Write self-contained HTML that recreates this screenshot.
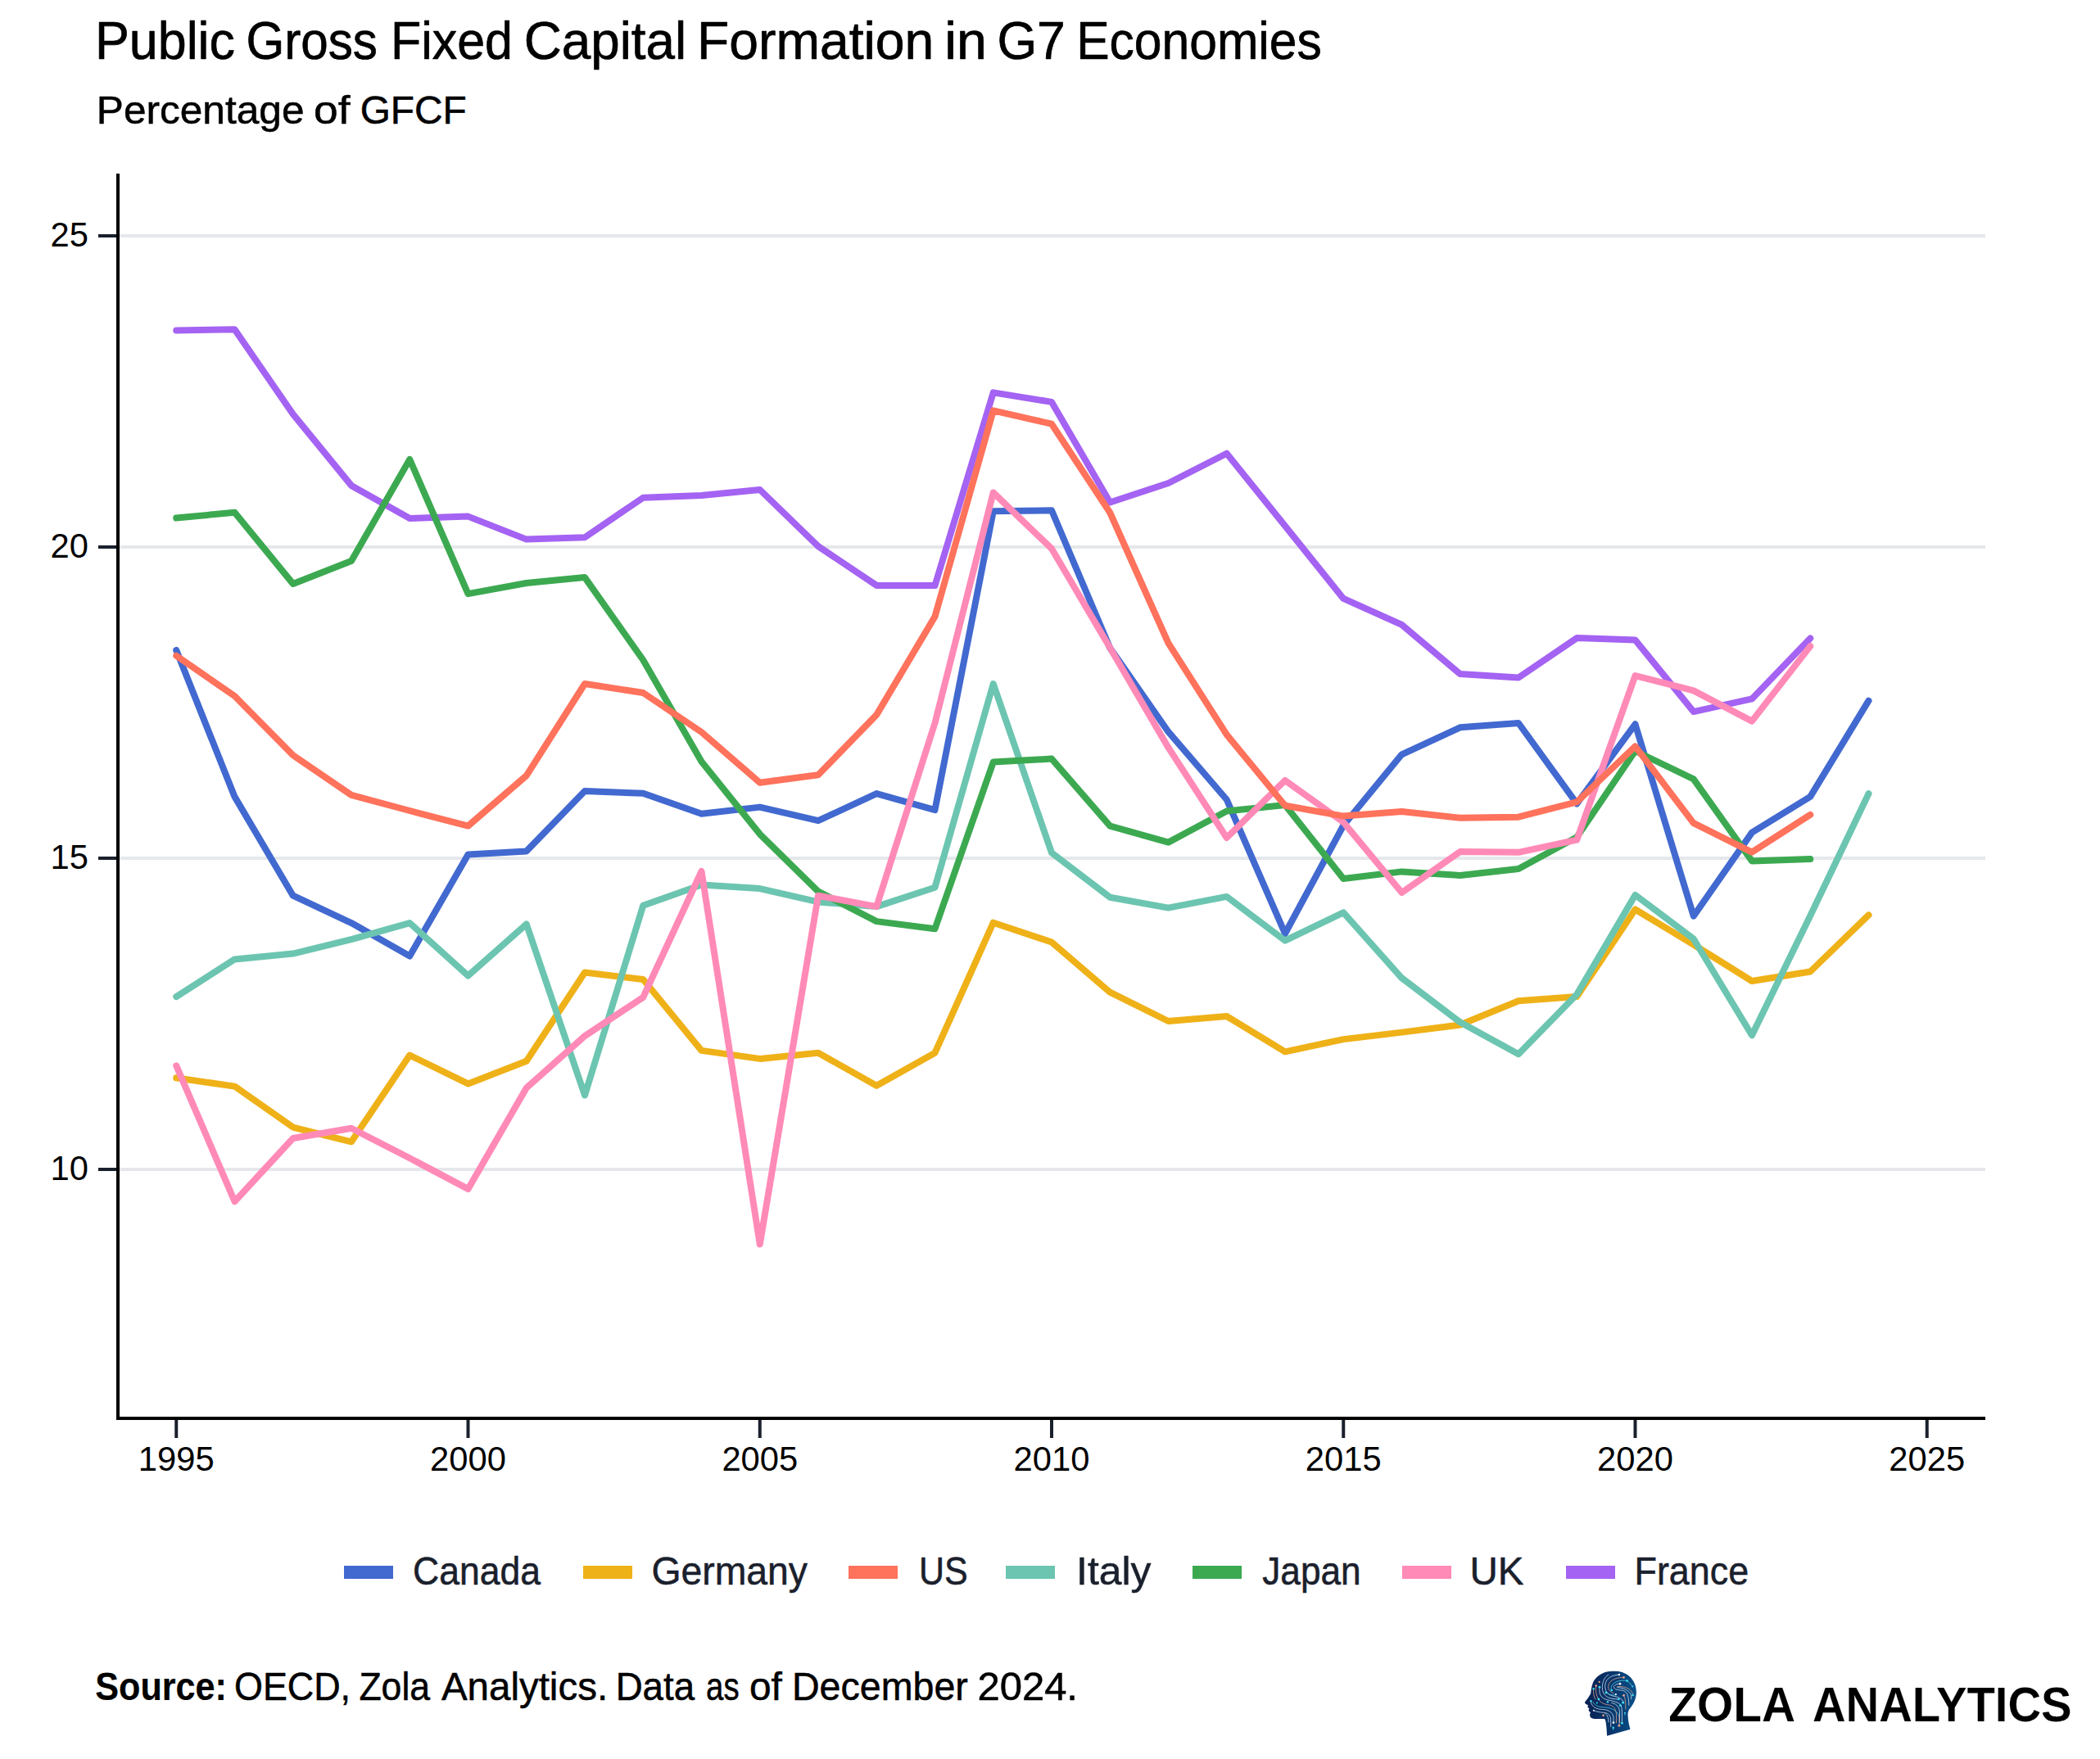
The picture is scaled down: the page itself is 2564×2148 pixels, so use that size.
<!DOCTYPE html>
<html lang="en"><head><meta charset="utf-8"><title>Public Gross Fixed Capital Formation in G7 Economies</title>
<style>
html,body{margin:0;padding:0;background:#fff;}
body{width:2564px;height:2148px;overflow:hidden;}
svg{display:block;}
text{font-family:'Liberation Sans', sans-serif;}
</style></head><body>
<svg width="2564" height="2148" viewBox="0 0 2564 2148">
<rect width="2564" height="2148" fill="#fff"/>

<g stroke="#e5e7eb" stroke-width="4">
<line x1="144" x2="2424" y1="1428" y2="1428"/>
<line x1="144" x2="2424" y1="1048" y2="1048"/>
<line x1="144" x2="2424" y1="668" y2="668"/>
<line x1="144" x2="2424" y1="288" y2="288"/>
</g>
<g stroke="#1a202c" stroke-width="4">
<line x1="120" x2="144" y1="1428" y2="1428"/>
<line x1="120" x2="144" y1="1048" y2="1048"/>
<line x1="120" x2="144" y1="668" y2="668"/>
<line x1="120" x2="144" y1="288" y2="288"/>
<line x1="215.25" x2="215.25" y1="1732" y2="1756"/>
<line x1="571.50" x2="571.50" y1="1732" y2="1756"/>
<line x1="927.75" x2="927.75" y1="1732" y2="1756"/>
<line x1="1284.00" x2="1284.00" y1="1732" y2="1756"/>
<line x1="1640.25" x2="1640.25" y1="1732" y2="1756"/>
<line x1="1996.50" x2="1996.50" y1="1732" y2="1756"/>
<line x1="2352.75" x2="2352.75" y1="1732" y2="1756"/>
</g>
<g fill="none" stroke-width="8" stroke-linejoin="round" stroke-linecap="round">
<polyline stroke="#4269d0" points="215.25,794.0 286.50,972.9 357.75,1093.7 429.00,1127.1 500.25,1167.5 571.50,1043.4 642.75,1039.4 714.00,966.0 785.25,968.8 856.50,993.7 927.75,985.6 999.00,1002.2 1070.25,969.1 1141.50,989.1 1212.75,624.3 1284.00,623.2 1355.25,791.4 1426.50,893.7 1497.75,976.5 1569.00,1140.0 1640.25,1008.0 1711.50,921.3 1782.75,888.3 1854.00,883.0 1925.25,981.4 1996.50,884.3 2067.75,1118.7 2139.00,1016.6 2210.25,972.9 2281.50,855.7"/>
<polyline stroke="#a463f2" points="215.25,403.4 286.50,402.3 357.75,505.7 429.00,592.9 500.25,633.1 571.50,630.6 642.75,658.6 714.00,656.2 785.25,607.7 856.50,605.1 927.75,598.0 999.00,667.1 1070.25,714.9 1141.50,715.1 1212.75,479.4 1284.00,490.9 1355.25,613.5 1426.50,590.0 1497.75,553.7 1569.00,642.3 1640.25,730.9 1711.50,762.9 1782.75,823.0 1854.00,827.5 1925.25,779.1 1996.50,781.4 2067.75,869.1 2139.00,853.4 2210.25,779.4"/>
<polyline stroke="#efb118" points="215.25,1316.3 286.50,1326.6 357.75,1376.6 429.00,1394.3 500.25,1288.6 571.50,1323.4 642.75,1295.7 714.00,1187.5 785.25,1196.0 856.50,1282.9 927.75,1292.9 999.00,1285.7 1070.25,1325.7 1141.50,1285.7 1212.75,1126.7 1284.00,1150.5 1355.25,1211.7 1426.50,1247.0 1497.75,1241.0 1569.00,1284.3 1640.25,1269.1 1711.50,1260.6 1782.75,1251.5 1854.00,1222.3 1925.25,1217.1 1996.50,1110.5 2067.75,1153.5 2139.00,1198.0 2210.25,1186.5 2281.50,1117.4"/>
<polyline stroke="#6cc5b0" points="215.25,1217.1 286.50,1171.4 357.75,1164.6 429.00,1147.1 500.25,1127.1 571.50,1191.5 642.75,1128.5 714.00,1337.5 785.25,1105.7 856.50,1080.6 927.75,1085.1 999.00,1101.4 1070.25,1107.1 1141.50,1083.7 1212.75,835.0 1284.00,1041.4 1355.25,1095.7 1426.50,1108.6 1497.75,1094.9 1569.00,1148.6 1640.25,1114.3 1711.50,1194.3 1782.75,1248.3 1854.00,1287.2 1925.25,1214.3 1996.50,1092.9 2067.75,1146.5 2139.00,1264.3 2210.25,1118.3 2281.50,969.1"/>
<polyline stroke="#3ca951" points="215.25,632.6 286.50,625.7 357.75,712.9 429.00,685.1 500.25,561.0 571.50,725.1 642.75,712.0 714.00,705.1 785.25,806.0 856.50,930.0 927.75,1018.6 999.00,1088.6 1070.25,1125.1 1141.50,1134.3 1212.75,930.6 1284.00,926.6 1355.25,1008.6 1426.50,1028.6 1497.75,990.5 1569.00,982.9 1640.25,1073.0 1711.50,1064.4 1782.75,1069.0 1854.00,1061.0 1925.25,1022.3 1996.50,917.0 2067.75,951.4 2139.00,1051.4 2210.25,1049.1"/>
<polyline stroke="#ff8ab7" points="215.25,1301.4 286.50,1467.2 357.75,1390.0 429.00,1377.7 500.25,1414.3 571.50,1451.9 642.75,1328.6 714.00,1265.1 785.25,1217.8 856.50,1064.0 927.75,1519.5 999.00,1093.7 1070.25,1107.1 1141.50,882.9 1212.75,601.5 1284.00,670.0 1355.25,791.0 1426.50,912.9 1497.75,1023.0 1569.00,953.0 1640.25,1004.0 1711.50,1090.0 1782.75,1040.0 1854.00,1040.8 1925.25,1025.7 1996.50,825.1 2067.75,843.4 2139.00,880.6 2210.25,789.1"/>
<polyline stroke="#ff725c" points="215.25,800.8 286.50,850.0 357.75,922.3 429.00,970.9 500.25,990.0 571.50,1008.6 642.75,947.1 714.00,835.0 785.25,846.0 856.50,894.0 927.75,955.7 999.00,946.3 1070.25,872.9 1141.50,752.9 1212.75,501.4 1284.00,517.7 1355.25,626.0 1426.50,785.4 1497.75,897.1 1569.00,983.8 1640.25,996.6 1711.50,991.1 1782.75,998.8 1854.00,997.7 1925.25,979.4 1996.50,911.4 2067.75,1005.1 2139.00,1040.6 2210.25,994.9"/>
</g>
<g stroke="#000" stroke-width="4" stroke-linecap="square"><line x1="144" x2="144" y1="214" y2="1732"/><line x1="144" x2="2422" y1="1732" y2="1732"/></g>
<g font-size="42" fill="#000">
<text x="61.6" y="1440.8" textLength="46.4" lengthAdjust="spacingAndGlyphs">10</text>
<text x="61.6" y="1060.8" textLength="46.4" lengthAdjust="spacingAndGlyphs">15</text>
<text x="61.6" y="680.8" textLength="46.4" lengthAdjust="spacingAndGlyphs">20</text>
<text x="61.6" y="300.8" textLength="46.4" lengthAdjust="spacingAndGlyphs">25</text>
<text x="168.8" y="1796.4" textLength="92.8" lengthAdjust="spacingAndGlyphs">1995</text>
<text x="525.1" y="1796.4" textLength="92.8" lengthAdjust="spacingAndGlyphs">2000</text>
<text x="881.4" y="1796.4" textLength="92.8" lengthAdjust="spacingAndGlyphs">2005</text>
<text x="1237.6" y="1796.4" textLength="92.8" lengthAdjust="spacingAndGlyphs">2010</text>
<text x="1593.8" y="1796.4" textLength="92.8" lengthAdjust="spacingAndGlyphs">2015</text>
<text x="1950.1" y="1796.4" textLength="92.8" lengthAdjust="spacingAndGlyphs">2020</text>
<text x="2306.3" y="1796.4" textLength="92.8" lengthAdjust="spacingAndGlyphs">2025</text>
</g>
<rect x="420" y="1912" width="60" height="16" fill="#4269d0"/>
<rect x="712" y="1912" width="60" height="16" fill="#efb118"/>
<rect x="1036" y="1912" width="60" height="16" fill="#ff725c"/>
<rect x="1228" y="1912" width="60" height="16" fill="#6cc5b0"/>
<rect x="1456" y="1912" width="60" height="16" fill="#3ca951"/>
<rect x="1712" y="1912" width="60" height="16" fill="#ff8ab7"/>
<rect x="1912" y="1912" width="60" height="16" fill="#a463f2"/>
<text x="116.0" y="72" font-size="64" fill="#000" stroke="#000" stroke-width="0.7" stroke-linejoin="round" textLength="170.9" lengthAdjust="spacingAndGlyphs">Public</text>
<text x="300.4" y="72" font-size="64" fill="#000" stroke="#000" stroke-width="0.7" stroke-linejoin="round" textLength="160.5" lengthAdjust="spacingAndGlyphs">Gross</text>
<text x="477.0" y="72" font-size="64" fill="#000" stroke="#000" stroke-width="0.7" stroke-linejoin="round" textLength="149.0" lengthAdjust="spacingAndGlyphs">Fixed</text>
<text x="639.7" y="72" font-size="64" fill="#000" stroke="#000" stroke-width="0.7" stroke-linejoin="round" textLength="198.5" lengthAdjust="spacingAndGlyphs">Capital</text>
<text x="851.0" y="72" font-size="64" fill="#000" stroke="#000" stroke-width="0.7" stroke-linejoin="round" textLength="289.3" lengthAdjust="spacingAndGlyphs">Formation</text>
<text x="1153.2" y="72" font-size="64" fill="#000" stroke="#000" stroke-width="0.7" stroke-linejoin="round" textLength="51.6" lengthAdjust="spacingAndGlyphs">in</text>
<text x="1217.4" y="72" font-size="64" fill="#000" stroke="#000" stroke-width="0.7" stroke-linejoin="round" textLength="83.4" lengthAdjust="spacingAndGlyphs">G7</text>
<text x="1314.2" y="72" font-size="64" fill="#000" stroke="#000" stroke-width="0.7" stroke-linejoin="round" textLength="299.6" lengthAdjust="spacingAndGlyphs">Economies</text>
<text x="117.8" y="151.4" font-size="48" fill="#000" stroke="#000" stroke-width="0.53" stroke-linejoin="round" textLength="253.7" lengthAdjust="spacingAndGlyphs">Percentage</text>
<text x="383.1" y="151.4" font-size="48" fill="#000" stroke="#000" stroke-width="0.53" stroke-linejoin="round" textLength="44.5" lengthAdjust="spacingAndGlyphs">of</text>
<text x="439.7" y="151.4" font-size="48" fill="#000" stroke="#000" stroke-width="0.53" stroke-linejoin="round" textLength="130.0" lengthAdjust="spacingAndGlyphs">GFCF</text>
<text x="504.1" y="1935" font-size="48" fill="#1a202c" stroke="#1a202c" stroke-width="0.53" stroke-linejoin="round" textLength="155.9" lengthAdjust="spacingAndGlyphs">Canada</text>
<text x="795.4" y="1935" font-size="48" fill="#1a202c" stroke="#1a202c" stroke-width="0.53" stroke-linejoin="round" textLength="190.6" lengthAdjust="spacingAndGlyphs">Germany</text>
<text x="1121.9" y="1935" font-size="48" fill="#1a202c" stroke="#1a202c" stroke-width="0.53" stroke-linejoin="round" textLength="59.7" lengthAdjust="spacingAndGlyphs">US</text>
<text x="1314.1" y="1935" font-size="48" fill="#1a202c" stroke="#1a202c" stroke-width="0.53" stroke-linejoin="round" textLength="91.3" lengthAdjust="spacingAndGlyphs">Italy</text>
<text x="1541.2" y="1935" font-size="48" fill="#1a202c" stroke="#1a202c" stroke-width="0.53" stroke-linejoin="round" textLength="120.5" lengthAdjust="spacingAndGlyphs">Japan</text>
<text x="1794.4" y="1935" font-size="48" fill="#1a202c" stroke="#1a202c" stroke-width="0.53" stroke-linejoin="round" textLength="66.0" lengthAdjust="spacingAndGlyphs">UK</text>
<text x="1995.5" y="1935" font-size="48" fill="#1a202c" stroke="#1a202c" stroke-width="0.53" stroke-linejoin="round" textLength="139.6" lengthAdjust="spacingAndGlyphs">France</text>
<text x="116.3" y="2076" font-size="48" font-weight="700" fill="#000" stroke="#000" stroke-width="0.2" stroke-linejoin="round" textLength="160.5" lengthAdjust="spacingAndGlyphs">Source:</text>
<text x="286.0" y="2076" font-size="48" fill="#000" stroke="#000" stroke-width="0.53" stroke-linejoin="round" textLength="142.0" lengthAdjust="spacingAndGlyphs">OECD,</text>
<text x="438.4" y="2076" font-size="48" fill="#000" stroke="#000" stroke-width="0.53" stroke-linejoin="round" textLength="86.7" lengthAdjust="spacingAndGlyphs">Zola</text>
<text x="538.9" y="2076" font-size="48" fill="#000" stroke="#000" stroke-width="0.53" stroke-linejoin="round" textLength="203.2" lengthAdjust="spacingAndGlyphs">Analytics.</text>
<text x="751.7" y="2076" font-size="48" fill="#000" stroke="#000" stroke-width="0.53" stroke-linejoin="round" textLength="96.3" lengthAdjust="spacingAndGlyphs">Data</text>
<text x="862.1" y="2076" font-size="48" fill="#000" stroke="#000" stroke-width="0.53" stroke-linejoin="round" textLength="40.5" lengthAdjust="spacingAndGlyphs">as</text>
<text x="914.9" y="2076" font-size="48" fill="#000" stroke="#000" stroke-width="0.53" stroke-linejoin="round" textLength="39.9" lengthAdjust="spacingAndGlyphs">of</text>
<text x="966.9" y="2076" font-size="48" fill="#000" stroke="#000" stroke-width="0.53" stroke-linejoin="round" textLength="215.0" lengthAdjust="spacingAndGlyphs">December</text>
<text x="1193.4" y="2076" font-size="48" fill="#000" stroke="#000" stroke-width="0.53" stroke-linejoin="round" textLength="122.6" lengthAdjust="spacingAndGlyphs">2024.</text>
<text x="2037.2" y="2101.9" font-size="60" font-weight="700" fill="#000" stroke="#fff" stroke-width="0.2" stroke-linejoin="round" textLength="154.8" lengthAdjust="spacingAndGlyphs">ZOLA</text>
<text x="2212.9" y="2101.9" font-size="60" font-weight="700" fill="#000" stroke="#fff" stroke-width="0.2" stroke-linejoin="round" textLength="316.7" lengthAdjust="spacingAndGlyphs">ANALYTICS</text>
<defs><linearGradient id="hg" x1="0" y1="0" x2="1" y2="0"><stop offset="0" stop-color="#091f50"/><stop offset="0.5" stop-color="#09356b"/><stop offset="1" stop-color="#0a5088"/></linearGradient></defs>
<g transform="translate(1920,2030) scale(0.05685)">
<path fill="url(#hg)" d="M880,190 C1000,185 1120,215 1210,290 C1310,370 1370,500 1370,640 C1370,780 1310,900 1215,1010 C1190,1060 1185,1110 1190,1160 C1195,1260 1215,1350 1240,1440 L740,1580 C735,1480 730,1380 715,1290 C710,1250 700,1225 685,1215 L470,1212 C410,1212 375,1185 372,1140 C370,1115 378,1095 385,1078 L352,1045 L345,1015 L362,992 L322,962 L336,925 L272,885 L262,858 L330,770 L390,672 C400,600 405,520 440,430 C490,320 600,240 720,205 C775,192 830,190 880,190 Z"/>
<g fill="none" stroke-width="13" stroke-linecap="round" stroke-linejoin="round">
<g stroke="#dcebf5">
<path d="M1000,265 C860,270 720,330 700,480 C690,600 740,690 860,720 C960,740 1060,760 1100,860"/>
<path d="M1020,460 C940,460 880,490 890,540 C900,590 980,590 1060,600 C1160,615 1210,700 1210,920"/>
<path d="M960,540 C1100,540 1200,600 1260,700 L1260,790"/>
<path d="M770,265 C680,320 640,420 640,540 C640,680 720,760 860,780 C900,785 950,790 990,792"/>
<path d="M580,540 C570,640 580,740 700,790 C820,830 960,830 1040,920 L1060,1000 L1065,1300"/>
<path d="M395,830 C400,940 480,1000 620,1010 C760,1015 860,1060 880,1180 L880,1295"/>
<path d="M455,1035 C520,1060 600,1075 680,1080 C780,1090 820,1150 822,1250 L822,1380"/>
<path d="M700,1100 C750,1130 770,1180 772,1280"/>
<path d="M840,870 C920,880 1000,940 1010,1050 L1012,1290"/>
</g>
<g stroke="#4fdcee">
<path d="M1170,395 C1020,370 850,420 830,540 C825,580 835,590 840,598"/>
<path d="M1290,520 C1240,450 1200,420 1170,395"/>
<path d="M440,850 C470,930 560,960 680,965 C820,970 940,1020 1000,1150"/>
<path d="M720,650 C780,700 860,705 930,700"/>
<path d="M1125,1085 L1125,1130"/>
<path d="M875,1405 L875,1450"/>
</g>
<g stroke="#eea88c">
<path d="M1100,325 C960,320 790,370 770,500 C760,580 800,640 880,660"/>
<path d="M960,520 C1080,510 1250,540 1295,680"/>
<path d="M505,500 C495,600 500,700 560,790 C600,880 700,900 780,915 C880,930 930,1000 940,1100 L940,1300"/>
<path d="M452,570 C445,650 450,720 490,790"/>
<path d="M1100,710 C1130,760 1140,820 1140,1000"/>
<path d="M1000,1150 L1005,1360"/>
</g>
</g>
<g fill="#f4fafd"><circle cx="1000" cy="265" r="22"/><circle cx="1020" cy="460" r="24"/><circle cx="930" cy="688" r="20"/><circle cx="880" cy="1295" r="24"/><circle cx="455" cy="1035" r="18"/></g>
<g fill="#f2a98c"><circle cx="1100" cy="325" r="24"/><circle cx="575" cy="420" r="20"/><circle cx="505" cy="500" r="22"/><circle cx="1100" cy="710" r="24"/><circle cx="660" cy="1140" r="22"/><circle cx="1000" cy="1360" r="24"/></g>
<g fill="#3fe0f2"><circle cx="1170" cy="395" r="24"/><circle cx="580" cy="530" r="24"/><circle cx="452" cy="568" r="22"/><circle cx="840" cy="598" r="24"/><circle cx="720" cy="650" r="24"/><circle cx="1290" cy="520" r="18"/><circle cx="1295" cy="705" r="22"/><circle cx="990" cy="792" r="22"/><circle cx="560" cy="790" r="24"/><circle cx="755" cy="850" r="22"/><circle cx="525" cy="870" r="18"/><circle cx="395" cy="830" r="22"/><circle cx="1085" cy="865" r="24"/><circle cx="1025" cy="925" r="24"/><circle cx="1125" cy="1085" r="16"/><circle cx="1062" cy="1305" r="24"/><circle cx="875" cy="1405" r="22"/></g>
</g>

</svg></body></html>
